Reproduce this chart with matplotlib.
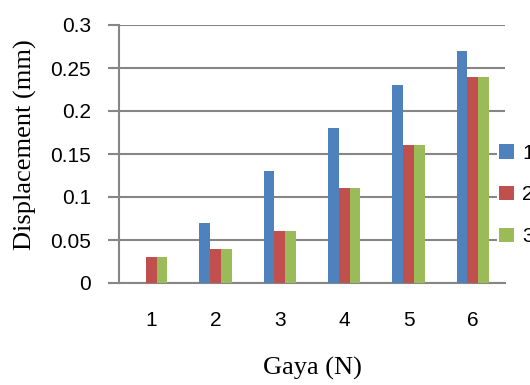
import numpy as np
import matplotlib.pyplot as plt
from matplotlib.patches import Patch

# Displacement readings per load step
gaya = ['1', '2', '3', '4', '5', '6']
seri_1 = [0.00, 0.07, 0.13, 0.18, 0.23, 0.27]
seri_2 = [0.03, 0.04, 0.06, 0.11, 0.16, 0.24]
seri_3 = [0.03, 0.04, 0.06, 0.11, 0.16, 0.24]
labels = ['1', '2', '3']
colors = ['#4F81BD', '#C0504D', '#9BBB59']

fig = plt.figure(figsize=(5.3, 3.85), dpi=100)
ax = fig.add_axes([119/530, 1 - 283/385, (505 - 119)/530, (283 - 25)/385])

x = np.arange(1, len(gaya) + 1)
w = 0.168
for i, vals in enumerate([seri_1, seri_2, seri_3]):
    ax.bar(x + (i - 1) * w, vals, width=w, color=colors[i], zorder=3)

ax.set_xlim(0.5, 6.5)
ax.set_ylim(0, 0.3)
ax.set_yticks([0, 0.05, 0.1, 0.15, 0.2, 0.25, 0.3])
ax.set_yticklabels(['0', '0.05', '0.1', '0.15', '0.2', '0.25', '0.3'])
ax.set_xticks(x)
ax.set_xticklabels(gaya)

grey = '#868686'
ax.yaxis.grid(True, color=grey, linewidth=1.5, zorder=0)
ax.set_axisbelow(True)
for s in ['top', 'right']:
    ax.spines[s].set_visible(False)
ax.spines['left'].set_color(grey)
ax.spines['left'].set_linewidth(1.5)
ax.spines['bottom'].set_color(grey)
ax.spines['bottom'].set_linewidth(1.5)
ax.tick_params(axis='y', length=8, width=1.5, color=grey, pad=12, labelsize=15)
ax.tick_params(axis='x', length=0, pad=20, labelsize=15)
for t in ax.get_xticklabels() + ax.get_yticklabels():
    t.set_fontfamily('Liberation Sans')

ax.set_xlabel('Gaya (N)', fontfamily='Liberation Serif', fontsize=19)
ax.set_ylabel('Displacement (mm)', fontfamily='Liberation Serif', fontsize=19)
ax.xaxis.set_label_coords(0.5, -0.285)
ax.yaxis.set_label_coords(-0.213, 0.535)

handles = [Patch(facecolor=c) for c in colors]
leg = fig.legend(handles, labels, loc='center left', bbox_to_anchor=(497/530, 1 - 195/385),
                 frameon=True, fancybox=False, edgecolor='none', facecolor='white', framealpha=1,
                 handlelength=0.7, handleheight=0.7, handletextpad=0.4, labelspacing=1.1,
                 borderpad=0.1, borderaxespad=0,
                 prop={'family': 'Liberation Sans', 'size': 15})

fig.savefig('out.png', dpi=100)
